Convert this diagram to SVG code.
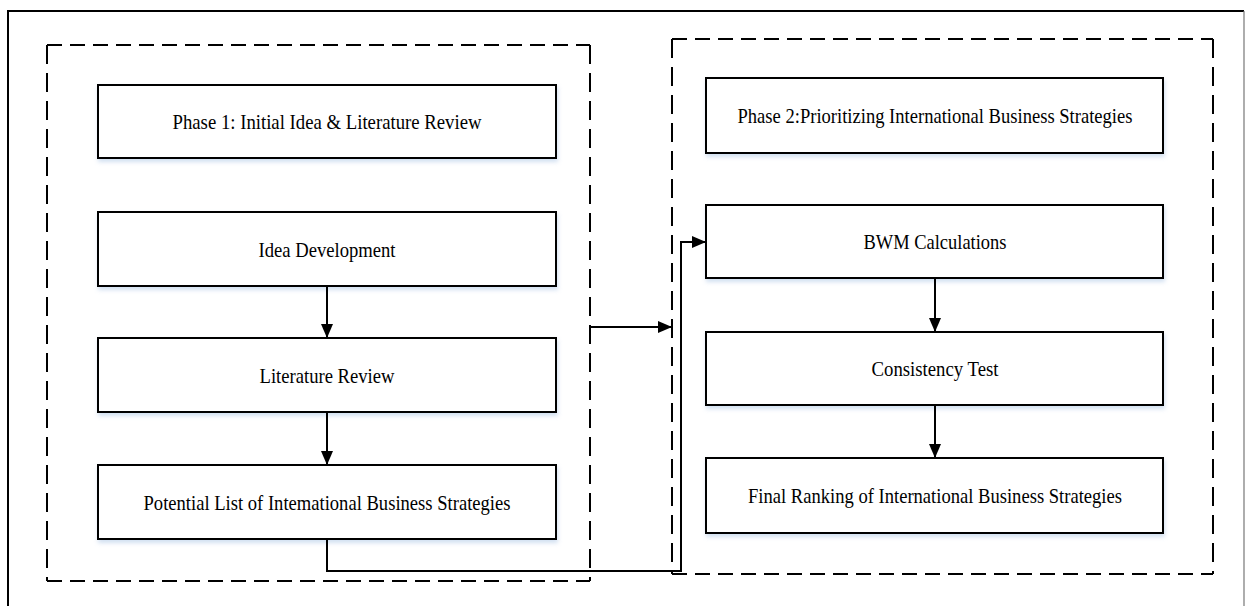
<svg xmlns="http://www.w3.org/2000/svg" width="1247" height="606" viewBox="0 0 1247 606">
<style>
.box{fill:#fff;stroke:#000;stroke-width:2;filter:url(#sh)}
.lbl{font-family:"Liberation Serif","Times New Roman",serif;font-size:22px;fill:#000;text-anchor:middle}
.dh{fill:none;stroke:#000;stroke-width:2;stroke-dasharray:15 8}
.dv{fill:none;stroke:#000;stroke-width:2;stroke-dasharray:19 9}
.con{fill:none;stroke:#000;stroke-width:2;marker-end:url(#ah)}
</style>
<defs>
<marker id="ah" viewBox="0 0 14 12" refX="14" refY="6" markerWidth="14" markerHeight="12" markerUnits="userSpaceOnUse" orient="auto">
<path d="M0,0 L14,6 L0,12 Z" fill="#000"/>
</marker>
<filter id="sh" x="-5%" y="-20%" width="115%" height="150%">
<feDropShadow dx="1" dy="3" stdDeviation="2" flood-color="#9bbbe0" flood-opacity="0.45"/>
</filter>
</defs>
<rect width="1247" height="606" fill="#fff"/>
<g id="frame">
<path d="M8,606 V11 H1244" fill="none" stroke="#000" stroke-width="2"/>
<path d="M1244,11 V606" fill="none" stroke="#777" stroke-width="1.2"/>
</g>
<g id="phase1-group">
<path class="dh" d="M47,45 H590"/>
<path class="dh" d="M47,581 H590"/>
<path class="dv" d="M47,45 V581"/>
<path class="dv" d="M590,45 V581"/>
</g>
<g id="phase2-group">
<path class="dh" d="M672,39 H1213"/>
<path class="dh" d="M672,574 H1213"/>
<path class="dv" d="M672,39 V574"/>
<path class="dv" d="M1213,39 V574"/>
</g>
<g id="phase1">
<rect class="box" x="98" y="85" width="458" height="73"/>
<text class="lbl" x="327" y="129" textLength="309" lengthAdjust="spacingAndGlyphs">Phase 1: Initial Idea &amp; Literature Review</text>
</g>
<g id="idea-development">
<rect class="box" x="98" y="212" width="458" height="74"/>
<text class="lbl" x="327" y="256.5" textLength="137" lengthAdjust="spacingAndGlyphs">Idea Development</text>
</g>
<g id="literature-review">
<rect class="box" x="98" y="338" width="458" height="74"/>
<text class="lbl" x="327" y="382.5" textLength="135" lengthAdjust="spacingAndGlyphs">Literature Review</text>
</g>
<g id="potential-list">
<rect class="box" x="98" y="465" width="458" height="74"/>
<text class="lbl" x="327" y="509.5" textLength="367" lengthAdjust="spacingAndGlyphs">Potential List of Intemational Business Strategies</text>
</g>
<g id="phase2">
<rect class="box" x="706" y="78" width="457" height="75"/>
<text class="lbl" x="935" y="123" textLength="395" lengthAdjust="spacingAndGlyphs">Phase 2:Prioritizing International Business Strategies</text>
</g>
<g id="bwm">
<rect class="box" x="706" y="205" width="457" height="73"/>
<text class="lbl" x="935" y="249" textLength="143" lengthAdjust="spacingAndGlyphs">BWM Calculations</text>
</g>
<g id="consistency">
<rect class="box" x="706" y="332" width="457" height="73"/>
<text class="lbl" x="935" y="376" textLength="127" lengthAdjust="spacingAndGlyphs">Consistency Test</text>
</g>
<g id="final-ranking">
<rect class="box" x="706" y="458" width="457" height="75"/>
<text class="lbl" x="935" y="503" textLength="374" lengthAdjust="spacingAndGlyphs">Final Ranking of International Business Strategies</text>
</g>
<g id="connectors">
<path class="con" d="M327,286 V338"/>
<path class="con" d="M327,412 V465"/>
<path class="con" d="M590,327 H672"/>
<path class="con" d="M327,539 V571 H681 V242 H706"/>
<path class="con" d="M935,278 V332"/>
<path class="con" d="M935,405 V458"/>
</g>
</svg>
